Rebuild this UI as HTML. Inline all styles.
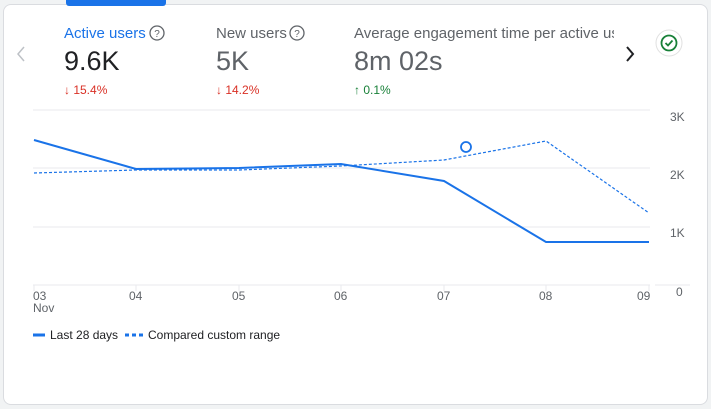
<!DOCTYPE html>
<html><head><style>
body{margin:0;width:711px;height:409px;background:#f1f3f4;font-family:"Liberation Sans",Arial,sans-serif;overflow:hidden;position:relative}
.card{position:absolute;left:3px;top:4px;width:703px;height:399px;background:#fff;border:1px solid #dadce0;border-radius:8px}
.t{position:absolute;white-space:nowrap}
</style></head><body>
<div class="card"></div>
<div class="t" style="left:66px;top:0;width:100px;height:6px;background:#1a73e8;border-radius:0 0 3px 3px"></div>
<div class="t" style="left:64px;top:25px;font-size:15px;color:#1a73e8">Active users</div>
<div class="t" style="left:216px;top:25px;font-size:15px;color:#5f6368">New users</div>
<div class="t" style="left:354px;top:25px;font-size:15px;color:#5f6368;width:260px;overflow:hidden">Average engagement time per active user</div>
<div class="t" style="left:64px;top:46px;font-size:27px;color:#202124">9.6K</div>
<div class="t" style="left:216px;top:46px;font-size:27px;color:#5f6368">5K</div>
<div class="t" style="left:354px;top:46px;font-size:27px;color:#5f6368">8m 02s</div>
<div class="t" style="left:64px;top:83px;font-size:12px;color:#d93025">↓ 15.4%</div>
<div class="t" style="left:216px;top:83px;font-size:12px;color:#d93025">↓ 14.2%</div>
<div class="t" style="left:354px;top:83px;font-size:12px;color:#188038">↑ 0.1%</div>
<svg style="position:absolute;left:0;top:0" width="711" height="409">
<g fill="none" stroke="#5f6368" stroke-width="1.3">
<circle cx="157" cy="33" r="7"/><circle cx="297" cy="33" r="7"/></g>
<text x="157" y="37" font-size="10" text-anchor="middle" fill="#5f6368" font-family="Liberation Sans">?</text>
<text x="297" y="37" font-size="10" text-anchor="middle" fill="#5f6368" font-family="Liberation Sans">?</text>
<path d="M24 47 L18 54 L24 61" fill="none" stroke="#bdc1c6" stroke-width="1.5"/>
<path d="M627 47 L633 54 L627 61" fill="none" stroke="#202124" stroke-width="2"/>
<circle cx="669" cy="43" r="13" fill="#fff" stroke="#e0e0e0"/>
<circle cx="669" cy="43" r="7.5" fill="none" stroke="#188038" stroke-width="1.8"/>
<path d="M665.5 43 L668 45.5 L672.5 40.5" fill="none" stroke="#188038" stroke-width="1.8"/>
<g stroke="#e8eaed" stroke-width="1">
<line x1="33" y1="110" x2="650" y2="110"/><line x1="33" y1="168" x2="650" y2="168"/>
<line x1="33" y1="227" x2="650" y2="227"/><line x1="33" y1="285" x2="650" y2="285"/>
<line x1="34" y1="285" x2="34" y2="291"/><line x1="136" y1="285" x2="136" y2="291"/>
<line x1="239" y1="285" x2="239" y2="291"/><line x1="341" y1="285" x2="341" y2="291"/>
<line x1="444" y1="285" x2="444" y2="291"/><line x1="546" y1="285" x2="546" y2="291"/>
<line x1="649" y1="285" x2="649" y2="291"/>
<line x1="655" y1="285" x2="690" y2="285"/>
</g>
<polyline points="34,140 136,169 239,168 341,164 444,181 546,242 649,242" fill="none" stroke="#1a73e8" stroke-width="2"/>
<polyline points="34,173 136,170 239,170 341,166 444,160 546,141 649,213" fill="none" stroke="#1a73e8" stroke-width="1.2" stroke-dasharray="3,2"/>
<circle cx="466" cy="147" r="5" fill="#fff" stroke="#1a73e8" stroke-width="1.8"/>
<g font-size="12" fill="#5f6368" font-family="Liberation Sans">
<text x="670" y="121">3K</text><text x="670" y="179">2K</text><text x="670" y="237">1K</text><text x="676" y="296">0</text>
<text x="33" y="300">03</text><text x="33" y="312">Nov</text><text x="129" y="300">04</text><text x="232" y="300">05</text>
<text x="334" y="300">06</text><text x="437" y="300">07</text><text x="539" y="300">08</text><text x="637" y="300">09</text>
<text x="50" y="339" fill="#202124">Last 28 days</text><text x="148" y="339" fill="#202124">Compared custom range</text>
</g>
<line x1="33" y1="335" x2="45" y2="335" stroke="#1a73e8" stroke-width="3"/>
<line x1="125" y1="335" x2="143" y2="335" stroke="#1a73e8" stroke-width="3" stroke-dasharray="4,3"/>
</svg>
</body></html>
